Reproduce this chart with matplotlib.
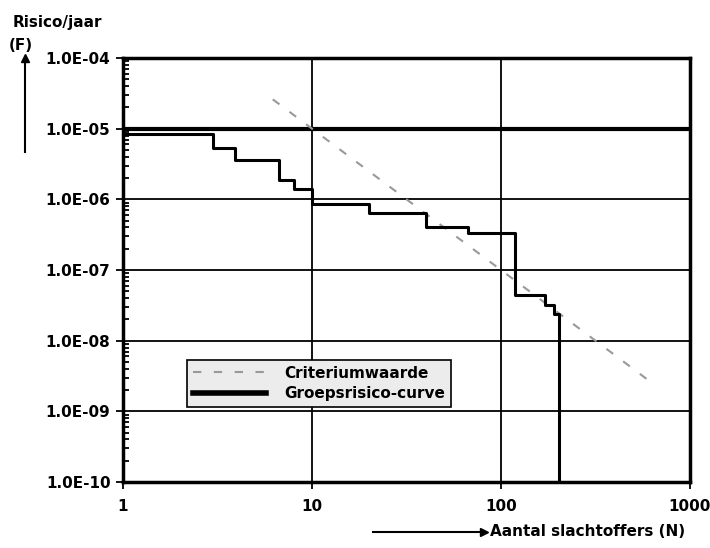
import matplotlib.pyplot as plt
import numpy as np

plt.rcParams['font.family'] = ['DejaVu Sans']

# groepsrisico step curve (N, F)
n_steps = [1, 3, 3.9, 6.7, 8, 10, 20, 40, 67, 119, 170, 190, 203]
f_steps = [8.5e-6, 5.4e-6, 3.6e-6, 1.85e-6, 1.4e-6, 8.7e-7, 6.5e-7, 4.1e-7, 3.3e-7, 4.4e-8, 3.2e-8, 2.4e-8, 1e-10]

# criteriumwaarde line
n_crit = [6.2, 10, 100, 620]
f_crit = [2.6e-5, 1e-5, 1e-7, 2.6e-9]

y_ticks = [1e-4, 1e-5, 1e-6, 1e-7, 1e-8, 1e-9, 1e-10]
y_labels = ['1.0E-04', '1.0E-05', '1.0E-06', '1.0E-07', '1.0E-08', '1.0E-09', '1.0E-10']
x_ticks = [1, 10, 100, 1000]
x_labels = ['1', '10', '100', '1000']

fig = plt.figure(figsize=(7.1, 5.48), dpi=100)
ax = fig.add_axes([123 / 710, 1 - 482 / 548, 567 / 710, 424 / 548])

ax.set_xscale('log')
ax.set_yscale('log')
ax.set_xlim(1, 1000)
ax.set_ylim(1e-10, 1e-4)

# grid
for yv in y_ticks[1:-1]:
    ax.axhline(yv, color='black', lw=3 if yv == 1e-5 else 1.3, zorder=1)
for xv in x_ticks[1:-1]:
    ax.axvline(xv, color='black', lw=1.3, zorder=1)

ax.plot(n_crit, f_crit, color='#999999', lw=1.5, dashes=(4, 6), label='Criteriumwaarde', zorder=2)
ax.step(n_steps, f_steps, where='post', color='black', lw=2.2, label='Groepsrisico-curve', zorder=3)

ax.set_xticks(x_ticks)
ax.set_xticklabels(x_labels)
ax.set_yticks(y_ticks)
ax.set_yticklabels(y_labels)
ax.xaxis.set_minor_locator(plt.NullLocator())
ax.yaxis.set_minor_locator(plt.LogLocator(base=10, subs=np.arange(2, 10)))
ax.tick_params(axis='y', which='minor', direction='in', length=4, width=1.3)
ax.tick_params(axis='x', which='major', direction='out', length=5, width=1.3, labelsize=11, pad=7)
ax.tick_params(axis='y', which='major', direction='out', length=5, width=1.3, labelsize=11, pad=4)
for lab in ax.get_xticklabels() + ax.get_yticklabels():
    lab.set_fontweight('bold')

for s in ax.spines.values():
    s.set_linewidth(2.5)

leg = ax.legend(loc='lower left', bbox_to_anchor=(0.10, 0.16), frameon=True, fancybox=False,
                edgecolor='black', facecolor='#ececec', framealpha=1,
                prop={'size': 11, 'weight': 'bold'},
                handlelength=4.8, handletextpad=1.2, borderpad=0.35, labelspacing=0.35)
leg.get_frame().set_linewidth(1.2)
leg.get_lines()[1].set_linewidth(4)

# axis labels with arrows
fig.text(13 / 710, 1 - 22 / 548, 'Risico/jaar', fontsize=11, fontweight='bold', va='center', ha='left')
fig.text(9 / 710, 1 - 45 / 548, '(F)', fontsize=11, fontweight='bold', va='center', ha='left')
fig.add_artist(plt.Line2D([25 / 710, 25 / 710], [1 - 152 / 548, 1 - 60 / 548], color='black', lw=1.5))
fig.add_artist(plt.Line2D([25 / 710], [1 - 58 / 548], marker='^', color='black', markersize=6))
fig.text(490 / 710, 1 - 531 / 548, 'Aantal slachtoffers (N)', fontsize=11, fontweight='bold', va='center', ha='left')
fig.add_artist(plt.Line2D([373 / 710, 482 / 710], [1 - 532 / 548, 1 - 532 / 548], color='black', lw=1.5))
fig.add_artist(plt.Line2D([484 / 710], [1 - 532 / 548], marker='>', color='black', markersize=6))

plt.savefig('out.png', dpi=100)
